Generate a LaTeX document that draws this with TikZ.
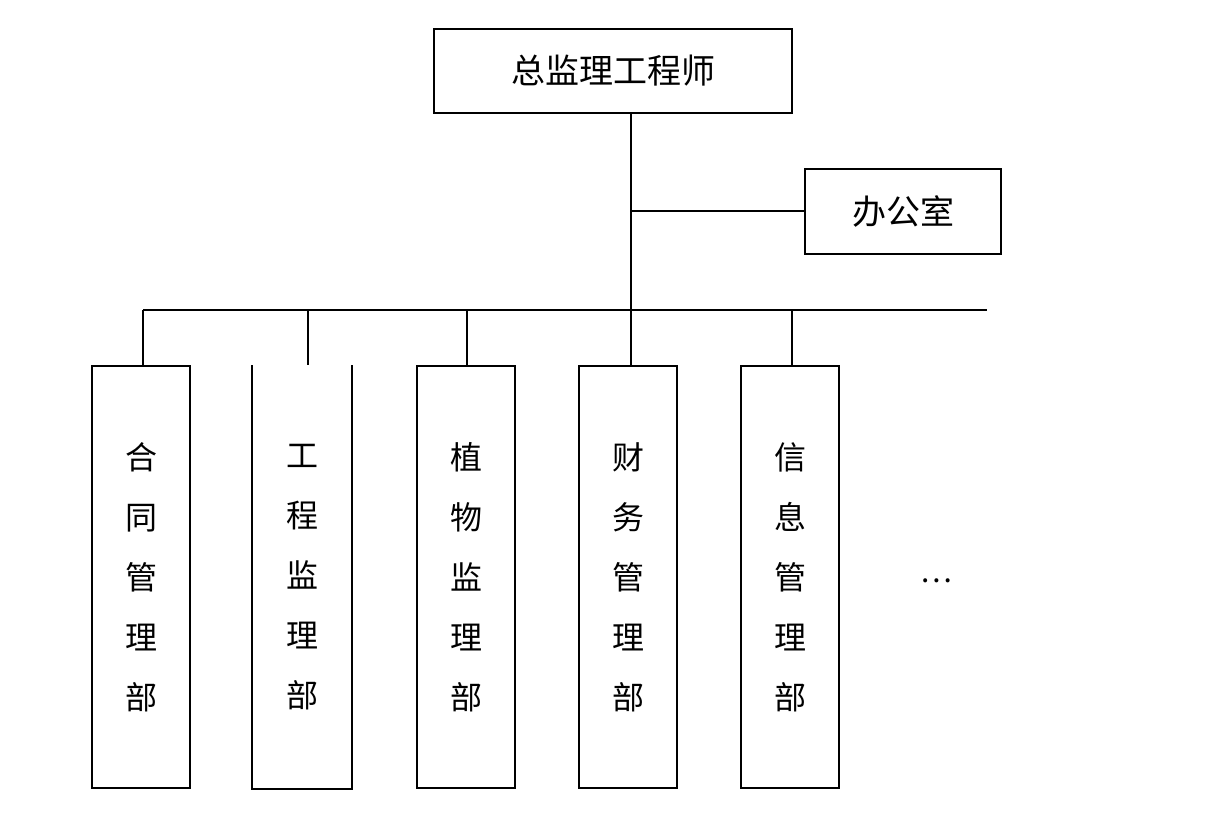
\documentclass[tikz,border=0pt]{standalone}
\usepackage{fontspec}
\newfontfamily\cjk{Noto Sans CJK SC}
\begin{document}
\begin{tikzpicture}[x=1pt,y=-1pt,
  line width=2pt,
  box/.style={draw, inner sep=0pt, font=\cjk\fontsize{34}{38}\selectfont},
  dept/.style={inner sep=0pt, minimum width=98pt, minimum height=422pt, align=center,
    font=\cjk\fontsize{32}{60}\selectfont},
  deptbox/.style={dept, draw}]
\useasboundingbox (0,0) rectangle (1219,824);
\node[box, minimum width=358pt, minimum height=84pt] (top) at (613,71) {总监理工程师};
\node[box, minimum width=196pt, minimum height=85pt] (office) at (903,211.5) {办公室};
\node[deptbox] (b1) at (141,577) {合\\同\\管\\理\\部};
\node[dept] (b2) at (302,577) {工\\程\\监\\理\\部};
\node[deptbox] (b3) at (466,577) {植\\物\\监\\理\\部};
\node[deptbox] (b4) at (628,577) {财\\务\\管\\理\\部};
\node[deptbox] (b5) at (790,577) {信\\息\\管\\理\\部};
\node[inner sep=0pt, font=\cjk\fontsize{30}{30}\selectfont] (dots) at (936,581) {…};
\draw[line join=miter] (b2.north west) -- (b2.south west) -- (b2.south east) -- (b2.north east);
\coordinate (j) at (631,310);
\coordinate (bl) at (143,310);
\coordinate (br) at (987,310);
\coordinate (t2) at (308,310);
\coordinate (t3) at (467,310);
\coordinate (t5) at (792,310);
\draw (bl) -- (br);
\draw (top.south -| j) -- (b4.north -| j);
\draw (office.west) -- (office.west -| j);
\draw (bl) -- (b1.north -| bl);
\draw (t2) -- (b2.north -| t2);
\draw (t3) -- (b3.north -| t3);
\draw (t5) -- (b5.north -| t5);
\end{tikzpicture}
\end{document}
